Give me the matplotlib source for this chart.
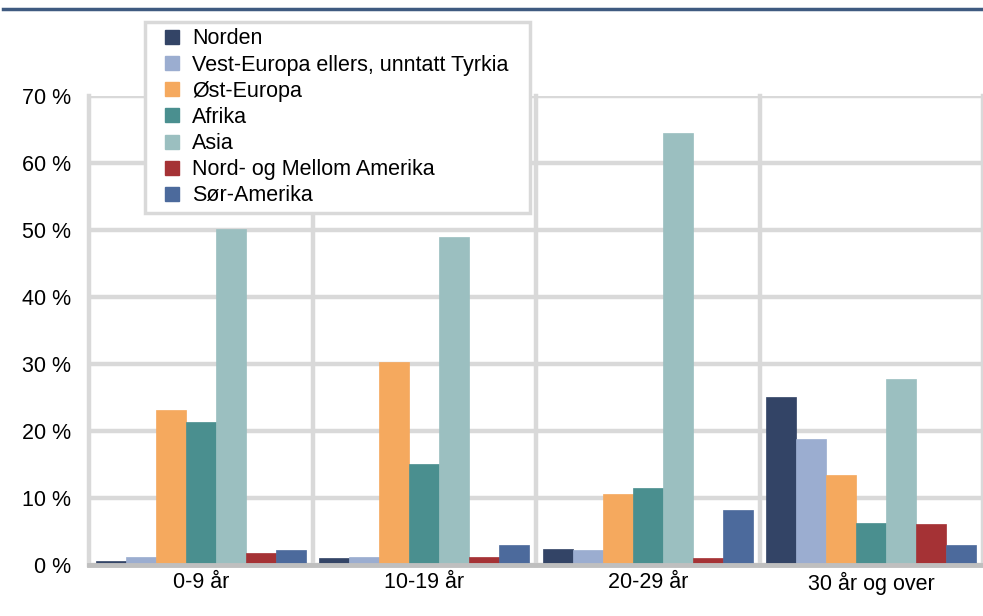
import matplotlib
matplotlib.use("Agg")
import matplotlib.pyplot as plt
import numpy as np
from matplotlib.lines import Line2D

plt.rcParams['font.family'] = ['Liberation Sans', 'DejaVu Sans']

categories = ["0-9 år", "10-19 år", "20-29 år", "30 år og over"]
series_names = ["Norden", "Vest-Europa ellers, unntatt Tyrkia", "Øst-Europa", "Afrika",
                "Asia", "Nord- og Mellom Amerika", "Sør-Amerika"]
norden = [0.6, 1.0, 2.4, 25.1]
vest_europa = [1.2, 1.2, 2.2, 18.8]
ost_europa = [23.1, 30.3, 10.6, 13.4]
afrika = [21.3, 15.1, 11.5, 6.3]
asia = [50.1, 49.0, 64.5, 27.8]
nord_amerika = [1.8, 1.2, 1.0, 6.1]
sor_amerika = [2.2, 3.0, 8.2, 3.0]
yticks = [0, 10, 20, 30, 40, 50, 60, 70]
ytick_labels = ["0 %", "10 %", "20 %", "30 %", "40 %", "50 %", "60 %", "70 %"]

series = [norden, vest_europa, ost_europa, afrika, asia, nord_amerika, sor_amerika]
colors = ["#334466", "#9BADD0", "#F5A95E", "#4A8F8F", "#9BBFC0", "#A53235", "#4C6A9C"]

FS = 15.5

fig = plt.figure(figsize=(9.83, 6.16), dpi=100)
ax = fig.add_axes([89/983, 1-565/616, 1-89/983, (565-96)/616])

x = np.arange(len(categories))
n = len(series)
w = 0.134
for i, (vals, c, name) in enumerate(zip(series, colors, series_names)):
    ax.bar(x + (i - (n-1)/2) * w, vals, width=w, color=c, label=name, zorder=3,
           edgecolor=c, linewidth=0.5)

ax.set_xlim(-0.5, len(categories) - 0.5)
ax.set_ylim(0, 70)
ax.set_yticks(yticks)
ax.set_yticklabels(ytick_labels)
ax.set_xticks(x)
ax.set_xticklabels(categories)
ax.tick_params(axis='both', length=0, labelsize=FS, colors='black')
ax.tick_params(axis='y', pad=13)
ax.tick_params(axis='x', pad=5)

ax.grid(axis='y', color='#d9d9d9', linewidth=3.2, zorder=0)
for b in np.arange(-0.5, len(categories), 1.0):
    ax.axvline(b, color='#d9d9d9', linewidth=3.2, zorder=0, clip_on=False)

for s in ['top', 'right', 'left']:
    ax.spines[s].set_visible(False)
ax.spines['bottom'].set_color('#bfbfbf')
ax.spines['bottom'].set_linewidth(3.5)
ax.spines['bottom'].set_zorder(4)

handles = [Line2D([], [], linestyle='none', marker='s', markersize=10, markerfacecolor=c,
                  markeredgecolor=c) for c in colors]
leg = fig.legend(handles, series_names, loc='upper left',
                 bbox_to_anchor=(145/983, 1-22/616, 385/983, 0.0), mode='expand',
                 borderaxespad=0, fontsize=FS, frameon=True, fancybox=False,
                 handlelength=1.9, handletextpad=0.0, labelspacing=0.24, borderpad=0.3)
leg.get_frame().set_edgecolor('#d9d9d9')
leg.get_frame().set_linewidth(2.5)
leg.get_frame().set_facecolor('white')
leg.get_frame().set_alpha(1)

fig.add_artist(Line2D([3/983, 1.0], [1-8.5/616, 1-8.5/616], color='#3F5A80', linewidth=2.5))

fig.savefig("out.png", dpi=100)
